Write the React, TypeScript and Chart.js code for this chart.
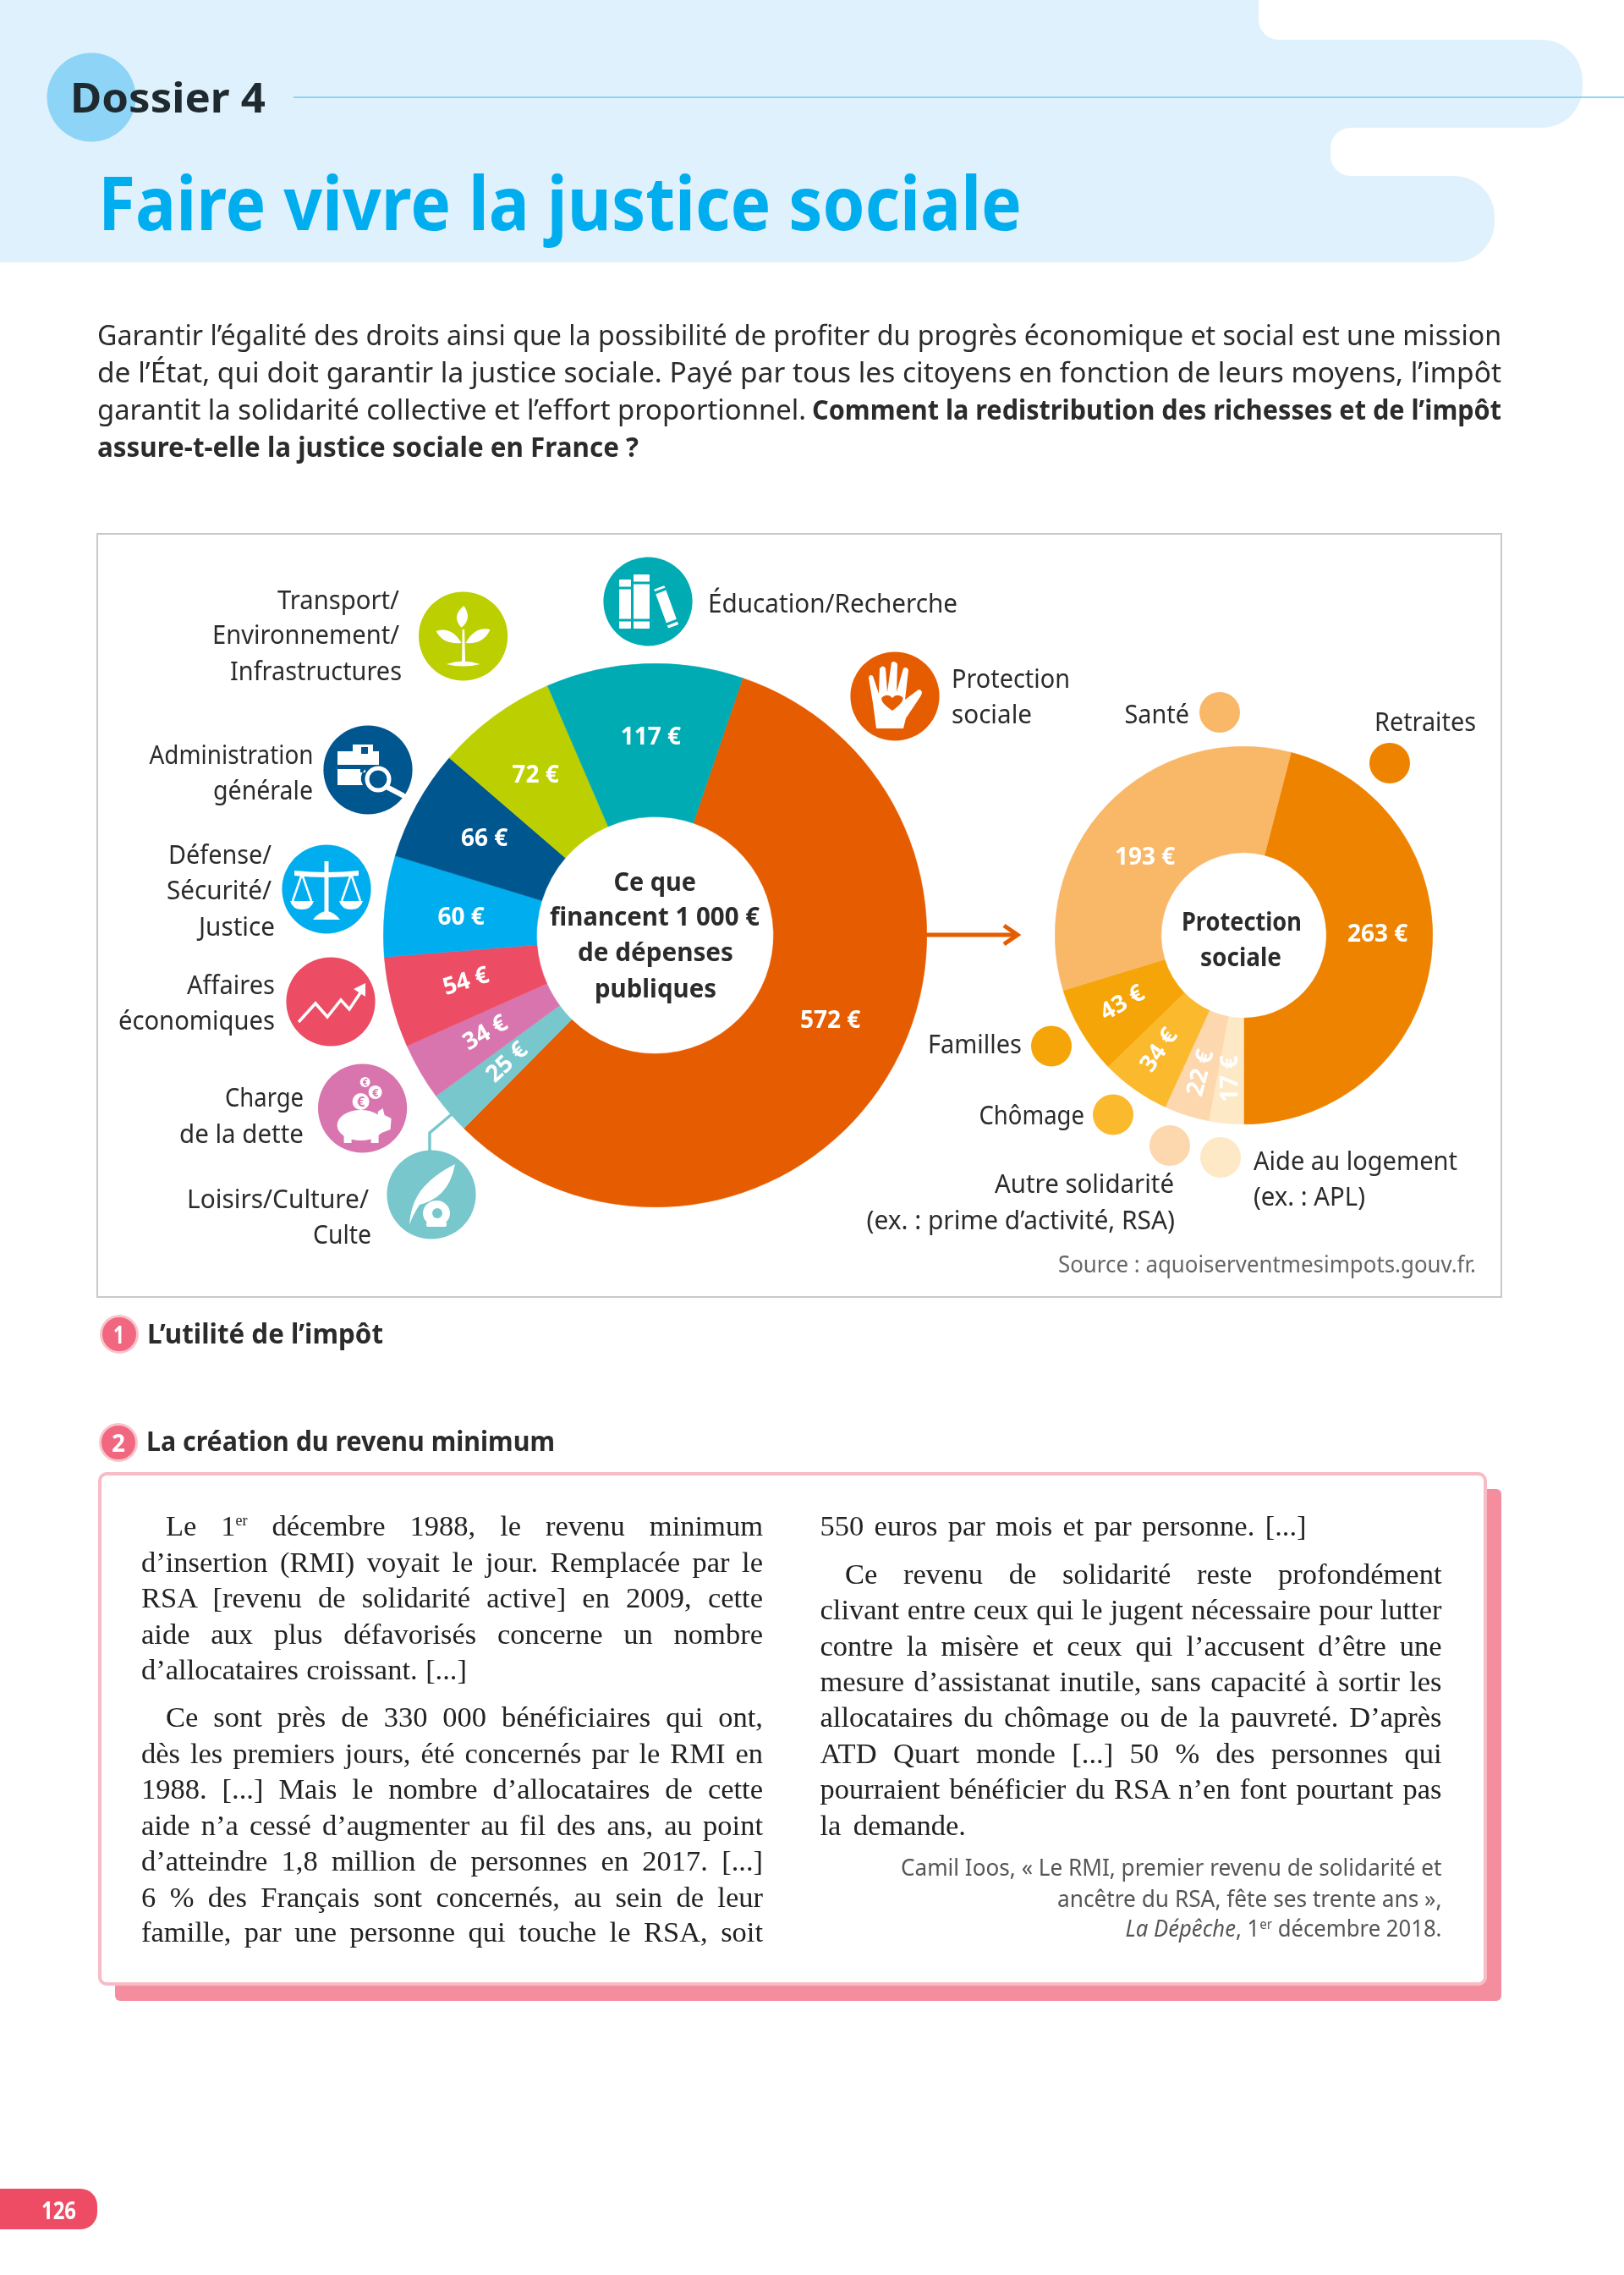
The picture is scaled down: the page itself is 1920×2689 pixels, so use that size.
import React, { useEffect, useLayoutEffect, useRef } from "react";
import { Chart, registerables } from "chart.js";

Chart.register(...registerables);

// ---- data ----
const spendingCategories = ["Protection sociale", "Loisirs/Culture/Culte", "Charge de la dette", "Affaires économiques", "Défense/Sécurité/Justice", "Administration générale", "Transport/Environnement/Infrastructures", "Éducation/Recherche"];
const spendingValues = [572, 25, 34, 54, 60, 66, 72, 117];
const spendingColors = ["#E65C00", "#78C7CC", "#D975AE", "#EC4C64", "#00AEEF", "#00568F", "#BCCF00", "#00ABB3"];
const spendingTurn = [0, -43, -30, -17, 0, 0, 0, 0];
const spendingNudge = [[11, -20], [0, 0], [-1, 0], [0, -2], [0, 4], [0, -2], [-5, -3], [4, -3]];

const socialCategories = ["Retraites", "Aide au logement", "Autre solidarité", "Chômage", "Familles", "Santé"];
const socialValues = [263, 17, 22, 34, 43, 193];
const socialColors = ["#EE8300", "#FEE9C6", "#FDD7AE", "#FBB92D", "#F5A507", "#F9B768"];
const socialTurn = [0, -90, -75, -55, -30, 0];
const socialNudge = [[-1, -21], [0, 10], [-2, 10], [-7, 5], [-5, -1], [-1, 20]];

const SANS = "'Noto Sans', sans-serif";
const SERIF = "'Liberation Serif', serif";

const sliceLabels = {
  id: "sliceLabels",
  afterDatasetsDraw(chart: any, _a: any, opts: any) {
    const ctx = chart.ctx;
    const values = chart.data.datasets[0].data;
    chart.getDatasetMeta(0).data.forEach((arc: any, i: number) => {
      const p = arc.getCenterPoint();
      ctx.save();
      ctx.translate(p.x + opts.nudge[i][0], p.y + opts.nudge[i][1]);
      ctx.rotate((opts.turn[i] * Math.PI) / 180);
      ctx.textAlign = "center";
      ctx.textBaseline = "middle";
      ctx.fillStyle = "#fff";
      ctx.font = `700 28px ${SANS}`;
      ctx.fillText(`${values[i]}\u00a0€`, 0, 0);
      ctx.restore();
    });
  },
};

function Donut({ left, top, size, cutout, rotation, labels, values, colors, turn, nudge }: any) {
  const ref = useRef<HTMLCanvasElement>(null);
  useEffect(() => {
    const chart = new Chart(ref.current as HTMLCanvasElement, {
      type: "doughnut",
      data: { labels, datasets: [{ data: values, backgroundColor: colors, borderColor: colors, borderWidth: 0.5, hoverOffset: 0 }] },
      options: {
        animation: false,
        responsive: false,
        cutout,
        rotation,
        layout: { padding: 0 },
        plugins: { legend: { display: false }, tooltip: { enabled: false }, sliceLabels: { turn, nudge } } as any,
      },
      plugins: [sliceLabels as any],
    });
    return () => chart.destroy();
  }, []);
  return <canvas ref={ref} width={size} height={size} style={{ position: "absolute", left, top, width: size, height: size }} />;
}

function T({ x, y, w, s = 31, c = "#2b2b2b", b = 400, f = SANS, children }: any) {
  return (
    <text x={x} y={y} textLength={w} lengthAdjust="spacingAndGlyphs" fontSize={s} fill={c} fontWeight={b} fontFamily={f} xmlSpace="preserve">
      {children}
    </text>
  );
}

// Serif line of the article: justified through word spacing, squeezed only when too long.
function J({ x, y, w, children }: any) {
  const ref = useRef<SVGTextElement>(null);
  useLayoutEffect(() => {
    const el = ref.current as SVGTextElement;
    const natural = el.getComputedTextLength();
    const gaps = (el.textContent || "").split(" ").length - 1;
    if (natural < w && gaps > 0) {
      el.style.wordSpacing = `${(w - natural) / gaps}px`;
    } else if (natural > w) {
      el.setAttribute("textLength", String(w));
      el.setAttribute("lengthAdjust", "spacingAndGlyphs");
    }
  }, []);
  return (
    <text ref={ref} x={x} y={y} fontSize={34.5} fill="#222" fontFamily={SERIF} xmlSpace="preserve">
      {children}
    </text>
  );
}

function Dot({ x, y, r = 24, c }: any) {
  return <circle cx={x} cy={y} r={r} fill={c} />;
}

const R = 52.6;

function Icons() {
  return (
    <g>
      {/* sprout */}
      <g transform="translate(547.6 752)">
        <circle r={R} fill="#BCCF00" />
        <g fill="#fff">
          <path d="M-1.5 32 L-1 -8 L1.5 -8 L2.5 32 Z" />
          <path d="M-20 33 Q0 26 20 33 Q0 38 -20 33 Z" />
          <path d="M-2 -10 Q-16 -22 -2 -36 Q10 -22 -2 -10 Z" transform="rotate(6 0 -10)" />
          <path d="M-2 8 Q-14 -12 -32 -6 Q-24 10 -2 8 Z" />
          <path d="M3 8 Q14 -12 32 -8 Q24 10 3 8 Z" />
        </g>
      </g>
      {/* books */}
      <g transform="translate(766 711)">
        <circle r={R} fill="#00ABB3" />
        <g fill="#fff">
          <rect x={-34} y={-26} width={14} height={58} rx={1} />
          <rect x={-17} y={-32} width={19} height={64} rx={1} />
          <rect x={-6.5} y={-24.5} width={13} height={49} rx={1} transform="translate(21.7 6.3) rotate(-20)" />
        </g>
        <g stroke="#00ABB3" strokeWidth={3}>
          <line x1={-34} x2={-20} y1={-16} y2={-16} />
          <line x1={-34} x2={-20} y1={22} y2={22} />
          <line x1={-17} x2={2} y1={-22} y2={-22} />
          <line x1={-17} x2={2} y1={22} y2={22} />
          <line x1={8} x2={21} y1={-10} y2={-15} />
          <line x1={22} x2={35} y1={27} y2={22} />
        </g>
      </g>
      {/* hand */}
      <g transform="translate(1058 823)">
        <circle r={R} fill="#E65C00" />
        <path fill="#fff" d="M-22 38 L-26 8 L-31 -22 Q-30 -27 -26 -24 L-19 -3 L-18 -33 Q-14 -38 -11 -33 L-9 -5 L-4 -40 Q0 -43 3 -38 L2 -5 L10 -33 Q14 -36 16 -31 L12 4 L28 -8 Q34 -7 31 -1 L13 26 L10 38 Z" />
        <path fill="#E65C00" d="M-3 17 Q-19 6 -15 1 Q-8 -4 -3 2 Q2 -4 9 1 Q12 6 -3 17 Z" />
      </g>
      {/* briefcase */}
      <g transform="translate(435 910)">
        <circle r={R} fill="#00568F" />
        <g fill="#fff">
          <path d="M-36 -22 H-18 V-30 H6 V-22 H13 V-6 H-36 Z" />
          <path d="M-36 -1 H-9 V3 H-3 V-1 Q-12 8 -6 18 H-36 Z" />
          <rect x={-8} y={-27} width={8} height={8} fill="#00568F" />
        </g>
        <circle cx={12} cy={11} r={13} fill="none" stroke="#fff" strokeWidth={5} />
        <line x1={22} y1={20} x2={41} y2={30} stroke="#fff" strokeWidth={6} strokeLinecap="round" />
      </g>
      {/* scales */}
      <g transform="translate(386 1051)">
        <circle r={R} fill="#00AEEF" />
        <g stroke="#fff" fill="none" strokeWidth={2.5}>
          <path d="M-29 -18 L-40 14 M-29 -18 L-18 14 M29 -18 L18 14 M29 -18 L40 14" />
        </g>
        <g fill="#fff">
          <path d="M-38 -22 Q0 -18 38 -22 L38 -16 Q0 -12 -38 -16 Z" />
          <rect x={-2.5} y={-33} width={5} height={62} />
          <path d="M-16 36 Q-8 26 0 26 Q8 26 16 36 Z" />
          <path d="M-43 14 H-15 Q-18 24 -29 24 Q-40 24 -43 14 Z" />
          <path d="M15 14 H43 Q40 24 29 24 Q18 24 15 14 Z" />
        </g>
      </g>
      {/* chart */}
      <g transform="translate(391 1184)">
        <circle r={R} fill="#EC4C64" />
        <polyline points="-38,24 -18,2 -4,18 12,-2 22,9 36,-12" fill="none" stroke="#fff" strokeWidth={3.5} />
        <path d="M27 -15 L41 -22 L41 -6 Z" fill="#fff" />
      </g>
      {/* piggy */}
      <g transform="translate(428.6 1310)">
        <circle r={R} fill="#D975AE" />
        <g fill="#fff">
          <ellipse cx={-2} cy={20} rx={28} ry={18} />
          <rect x={-22} y={28} width={9} height={13} />
          <rect x={10} y={28} width={9} height={13} />
          <path d="M18 4 L24 0 L26 8 L34 12 L33 25 L20 30 Z" />
          <circle cx={-2} cy={-8} r={10} />
          <circle cx={15} cy={-19} r={8} />
          <circle cx={3} cy={-31} r={6} />
        </g>
        <g fill="#D975AE" fontFamily={SANS} textAnchor="middle" fontWeight={700}>
          <text x={-2} y={-2} fontSize={16}>€</text>
          <text x={15} y={-14} fontSize={13}>€</text>
          <text x={3} y={-27} fontSize={10}>€</text>
        </g>
      </g>
      {/* feather */}
      <polyline points="534,1317 508,1339 508,1362" fill="none" stroke="#78C7CC" strokeWidth={3.5} />
      <g transform="translate(510 1412)">
        <circle r={R} fill="#78C7CC" />
        <g fill="#fff">
          <path d="M-26 36 Q-24 4 -4 -14 Q8 -26 28 -36 Q24 -14 12 -2 Q2 8 -14 12 Q-22 24 -26 36 Z" />
          <ellipse cx={6} cy={22} rx={16} ry={15} />
          <rect x={-6} y={32} width={24} height={6} rx={2} />
        </g>
        <circle cx={7} cy={22} r={6} fill="#78C7CC" />
      </g>
    </g>
  );
}

function Header() {
  const blue = "#DFF1FC";
  const box = (style: any) => <div style={{ position: "absolute", ...style }} />;
  return (
    <>
      {box({ left: 0, top: 0, width: 1640, height: 310, background: blue })}
      {box({ left: 1488, top: -30, width: 432, height: 77, background: "#fff", borderRadius: "30px 0 0 24px" })}
      {box({ left: 0, top: 47, width: 1871, height: 104, background: blue, borderRadius: "0 48px 48px 0" })}
      {box({ left: 1573, top: 151, width: 347, height: 57, background: "#fff", borderRadius: "24px 0 0 24px" })}
      {box({ left: 0, top: 208, width: 1767, height: 102, background: blue, borderRadius: "0 48px 48px 0" })}
    </>
  );
}

export default function App() {
  return (
    <div style={{ position: "absolute", left: 0, top: 0, width: 1920, height: 2689, background: "#fff", overflow: "hidden" }}>
      <Header />
      {/* panels */}
      <div style={{ position: "absolute", left: 114, top: 630, width: 1662, height: 904, border: "2px solid #C9C9C9", boxSizing: "border-box" }} />
      <div style={{ position: "absolute", left: 136, top: 1760, width: 1639, height: 605, background: "#F48D9E", borderRadius: 6 }} />
      <div style={{ position: "absolute", left: 116, top: 1740, width: 1642, height: 607, background: "#fff", border: "4px solid #F7BCC6", borderRadius: 10, boxSizing: "border-box" }} />
      <div style={{ position: "absolute", left: 0, top: 2587, width: 115, height: 48, background: "#EE4C64", borderRadius: "0 20px 20px 0" }} />

      <Donut left={453} top={783.5} size={643} cutout={140} rotation={18.8} labels={spendingCategories} values={spendingValues} colors={spendingColors} turn={spendingTurn} nudge={spendingNudge} />
      <Donut left={1247} top={882} size={447} cutout={97.7} rotation={14.5} labels={socialCategories} values={socialValues} colors={socialColors} turn={socialTurn} nudge={socialNudge} />

      <svg width={1920} height={2689} viewBox="0 0 1920 2689" style={{ position: "absolute", left: 0, top: 0, pointerEvents: "none" }}>
        {/* header */}
        <line x1={347} x2={1920} y1={115} y2={115} stroke="#8FD3F6" strokeWidth={2} />
        <circle cx={108} cy={115} r={52.5} fill="#8DD4F7" />
        <T x={83} y={133} w={231} s={48} b={700} c="#1f2a30">Dossier 4</T>
        <T x={116} y={272} w={1092} s={88} b={700} c="#00AEEF">Faire vivre la justice sociale</T>

        {/* intro */}
        <T x={115} y={408} w={1660} s={32}>Garantir l’égalité des droits ainsi que la possibilité de profiter du progrès économique et social est une mission</T>
        <T x={115} y={452} w={1660} s={32}>de l’État, qui doit garantir la justice sociale. Payé par tous les citoyens en fonction de leurs moyens, l’impôt</T>
        <T x={115} y={496} w={838} s={32}>garantit la solidarité collective et l’effort proportionnel.</T>
        <T x={960} y={496} w={815} s={32} b={700}>Comment la redistribution des richesses et de l’impôt</T>
        <T x={115} y={540} w={640} s={32} b={700}>assure-t-elle la justice sociale en France ?</T>

        <Icons />

        {/* main doughnut labels */}
        <T x={328} y={720} w={144}>Transport/</T>
        <T x={251} y={761} w={221}>Environnement/</T>
        <T x={272} y={804} w={203}>Infrastructures</T>
        <T x={837} y={724} w={295}>Éducation/Recherche</T>
        <T x={176.5} y={903} w={194}>Administration</T>
        <T x={252} y={945} w={118}>générale</T>
        <T x={199} y={1021} w={122}>Défense/</T>
        <T x={197} y={1063} w={124}>Sécurité/</T>
        <T x={235} y={1106} w={90}>Justice</T>
        <T x={221} y={1175} w={104}>Affaires</T>
        <T x={140} y={1217} w={185}>économiques</T>
        <T x={266} y={1308} w={93}>Charge</T>
        <T x={212} y={1350.5} w={147}>de la dette</T>
        <T x={221} y={1427.5} w={215}>Loisirs/Culture/</T>
        <T x={370} y={1470} w={69}>Culte</T>
        <T x={1125} y={813} w={140}>Protection</T>
        <T x={1125} y={855} w={95}>sociale</T>

        {/* doughnut centres */}
        <T x={725.5} y={1052.5} w={97.5} b={700}>Ce que</T>
        <T x={650} y={1094} w={248} b={700}>financent 1 000 €</T>
        <T x={683} y={1136} w={184} b={700}>de dépenses</T>
        <T x={703} y={1179} w={144} b={700}>publiques</T>
        <T x={1397} y={1100} w={142} b={700}>Protection</T>
        <T x={1419} y={1142} w={96} b={700}>sociale</T>

        {/* arrow */}
        <line x1={1095} x2={1203} y1={1105} y2={1105} stroke="#E65C00" strokeWidth={5} />
        <polyline points="1187,1094 1203,1105 1187,1116" fill="none" stroke="#E65C00" strokeWidth={5} />

        {/* social doughnut labels */}
        <T x={1329.5} y={855} w={76.5}>Santé</T>
        <Dot x={1442} y={842} c="#F9B768" />
        <T x={1625} y={864} w={120}>Retraites</T>
        <Dot x={1643} y={902} c="#EE8300" />
        <T x={1097} y={1244.5} w={111}>Familles</T>
        <Dot x={1243} y={1236.5} c="#F5A507" />
        <T x={1157.5} y={1329} w={124.5}>Chômage</T>
        <Dot x={1316} y={1317.5} c="#FBB92D" />
        <Dot x={1383} y={1354} c="#FDD7AE" />
        <Dot x={1443} y={1368} c="#FEE9C6" />
        <T x={1176} y={1410} w={212}>Autre solidarité</T>
        <T x={1024.5} y={1453} w={364.5}>(ex. : prime d’activité, RSA)</T>
        <T x={1482} y={1383} w={241}>Aide au logement</T>
        <T x={1482} y={1425} w={132}>(ex. : APL)</T>
        <T x={1251} y={1504} w={494} s={27.5} c="#666">Source : aquoiserventmesimpots.gouv.fr.</T>

        {/* section headings */}
        <circle cx={141} cy={1577} r={21.5} fill="#F0677F" stroke="#F9C3CC" strokeWidth={3} />
        <T x={134} y={1588} w={13} s={28} b={700} c="#fff">1</T>
        <T x={174} y={1587.5} w={279} s={33} b={700}>L’utilité de l’impôt</T>
        <circle cx={140} cy={1705} r={21.5} fill="#F0677F" stroke="#F9C3CC" strokeWidth={3} />
        <T x={132} y={1716} w={16} s={28} b={700} c="#fff">2</T>
        <T x={173} y={1715} w={483} s={33} b={700}>La création du revenu minimum</T>

        {/* left column */}
        <J x={196} y={1814.5} w={706}>Le 1<tspan dy={-12} fontSize={18}>er</tspan><tspan dy={12}> décembre 1988, le revenu minimum</tspan></J>
        <J x={167} y={1857.5} w={735}>d’insertion (RMI) voyait le jour. Remplacée par le</J>
        <J x={167} y={1900} w={735}>RSA [revenu de solidarité active] en 2009, cette</J>
        <J x={167} y={1942.5} w={735}>aide aux plus défavorisés concerne un nombre</J>
        <J x={167} y={1984.5} w={385}>d’allocataires croissant. [...]</J>
        <J x={196} y={2041} w={706}>Ce sont près de 330 000 bénéficiaires qui ont,</J>
        <J x={167} y={2084} w={735}>dès les premiers jours, été concernés par le RMI en</J>
        <J x={167} y={2126} w={735}>1988. [...] Mais le nombre d’allocataires de cette</J>
        <J x={167} y={2168.5} w={735}>aide n’a cessé d’augmenter au fil des ans, au point</J>
        <J x={167} y={2211} w={735}>d’atteindre 1,8 million de personnes en 2017. [...]</J>
        <J x={167} y={2253.5} w={735}>6 % des Français sont concernés, au sein de leur</J>
        <J x={167} y={2295} w={735}>famille, par une personne qui touche le RSA, soit</J>

        {/* right column */}
        <J x={969.5} y={1814.5} w={575}>550 euros par mois et par personne. [...]</J>
        <J x={999} y={1871.5} w={705.5}>Ce revenu de solidarité reste profondément</J>
        <J x={969.5} y={1913.5} w={735}>clivant entre ceux qui le jugent nécessaire pour lutter</J>
        <J x={969.5} y={1956.5} w={735}>contre la misère et ceux qui l’accusent d’être une</J>
        <J x={969.5} y={1999} w={735}>mesure d’assistanat inutile, sans capacité à sortir les</J>
        <J x={969.5} y={2041} w={735}>allocataires du chômage ou de la pauvreté. D’après</J>
        <J x={969.5} y={2084} w={735}>ATD Quart monde [...] 50 % des personnes qui</J>
        <J x={969.5} y={2126} w={735}>pourraient bénéficier du RSA n’en font pourtant pas</J>
        <J x={969.5} y={2168.5} w={172.5}>la demande.</J>

        {/* citation */}
        <T x={1065} y={2217} w={639.5} s={27} c="#555">Camil Ioos, « Le RMI, premier revenu de solidarité et</T>
        <T x={1250} y={2253.5} w={454.5} s={27} c="#555">ancêtre du RSA, fête ses trente ans »,</T>
        <T x={1330.5} y={2289} w={374} s={27} c="#555"><tspan fontStyle="italic">La Dépêche</tspan>, 1<tspan dy={-9} fontSize={16}>er</tspan><tspan dy={9}> décembre 2018.</tspan></T>

        {/* page number */}
        <T x={49} y={2623} w={41} s={28} b={700} c="#fff">126</T>
      </svg>
    </div>
  );
}
